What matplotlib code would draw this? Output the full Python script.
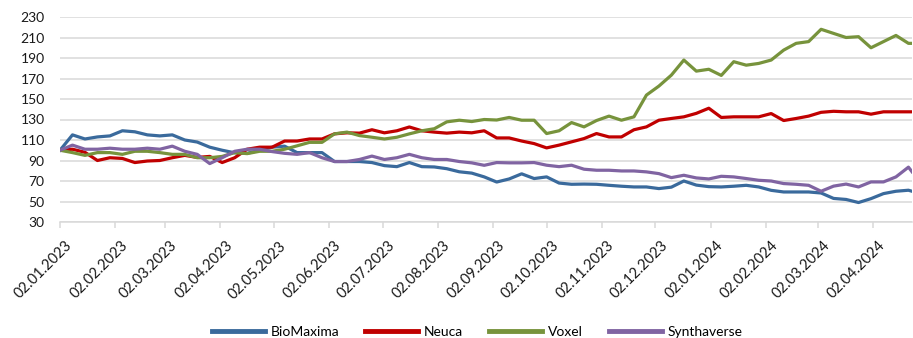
import matplotlib
matplotlib.use('Agg')
from matplotlib import pyplot as plt
from matplotlib.transforms import ScaledTranslation
import matplotlib.dates as mdates
import pandas as pd

# weekly readings (Mondays from 02.01.2023), last value = 24.04.2024
biomaxima = [100, 115, 111, 113, 114, 119, 118, 115, 114, 115,
             110, 108, 103, 100, 97.5, 97, 100, 103, 104, 97.7,
             97.7, 97.7, 89, 89, 89, 88, 85, 84, 88, 84,
             83.7, 82, 79, 77.7, 74, 69, 72, 77, 72.4, 74,
             68, 66.8, 67, 66.8, 65.8, 64.9, 64.2, 64.2, 62.6, 64,
             70, 66, 64.5, 64.2, 64.9, 65.8, 64.2, 60.9, 59.3, 59.3,
             59.3, 58.3, 53, 52, 49, 52.8, 57.7, 60, 61, 60]
neuca = [100, 101, 98, 90, 92.7, 92, 88, 89.5, 90, 92.7,
         95, 93, 94, 88, 92.7, 101, 103, 103, 109, 109,
         111, 111, 116, 117, 116.7, 120, 117, 119, 122.7, 119,
         117.7, 116.7, 117.7, 117, 119, 112, 112, 109, 106.5, 102.3,
         105, 108.2, 111.4, 116.3, 113, 113, 120, 122.8, 129.3, 131,
         132.6, 136, 141, 132, 132.6, 132.6, 132.6, 135.8, 129, 131,
         133.3, 137, 138, 137.5, 137.5, 135.2, 137.5, 137.5, 137.5, 137.5]
voxel = [100, 97.7, 95, 97.7, 97.7, 96, 99, 99, 97.7, 96,
         96, 92.7, 92.7, 94, 97.7, 96.7, 99, 99, 101, 104.3,
         107.7, 107.7, 116, 117.7, 114.3, 112.7, 111, 112.7, 116, 119,
         121, 127.7, 129.3, 128, 130, 129.5, 132, 129.3, 129.3, 116.3,
         119, 127, 122.8, 129, 133.3, 129.3, 132.6, 153.8, 162.6, 173.3,
         188, 177.2, 179, 173, 186.4, 183, 184.7, 188, 197.7, 204.3,
         206, 218, 214, 210, 210.8, 200, 206, 212, 204.3, 204.3]
synthaverse = [100, 105, 101, 101, 102, 101, 101, 102, 101, 104,
               99, 96, 87, 92.7, 99, 101, 101, 98.7, 97, 96,
               97.7, 92.7, 89, 89, 91, 94.3, 91, 92.7, 96, 92.7,
               91, 91, 89, 87.7, 85.3, 88, 87.7, 87.7, 88, 85.4,
               84, 85.4, 81.5, 80.5, 80.5, 79.8, 79.8, 78.9, 77.2, 73.3,
               75.6, 73, 72, 74.6, 74, 72.4, 70.7, 70, 67.5, 66.8,
               65.8, 60, 65, 67, 64.2, 69.1, 69.1, 74, 83.5, 79]

series_names = ['BioMaxima', 'Neuca', 'Voxel', 'Synthaverse']
series_colors = ['#3A6A9C', '#C00000', '#77933C', '#8064A2']

dates = list(pd.date_range('2023-01-02', periods=69, freq='7D')) + [pd.Timestamp('2024-04-24')]
tick_dates = pd.date_range('2023-01-01', '2024-04-01', freq='MS') + pd.Timedelta(days=1)

plt.rcParams['font.family'] = ['Lato', 'DejaVu Sans']

fig = plt.figure(figsize=(9.13, 3.38), dpi=100)
ax = fig.add_axes([60 / 913, 1 - 222 / 338, 852 / 913, 205 / 338])

for name, values, color in zip(series_names, [biomaxima, neuca, voxel, synthaverse], series_colors):
    ax.plot(dates, values, color=color, lw=2.3, label=name, solid_joinstyle='round')

ax.set_ylim(30, 230)
ax.set_yticks(range(30, 231, 20))
ax.set_xlim(pd.Timestamp('2023-01-02'), pd.Timestamp('2024-04-24'))
ax.set_xticks(tick_dates)
ax.xaxis.set_major_formatter(mdates.DateFormatter('%d.%m.%Y'))

ax.grid(axis='y', color='#D9D9D9', lw=1.1)
ax.set_axisbelow(True)
for s in ['left', 'right', 'top']:
    ax.spines[s].set_visible(False)
ax.spines['bottom'].set_color('#D9D9D9')
ax.spines['bottom'].set_linewidth(1.1)

ax.tick_params(axis='y', length=0, pad=11, labelsize=10, labelcolor='#1a1a1a')
ax.tick_params(axis='x', length=4, color='#D9D9D9', width=1.1, pad=8, labelsize=10.5, labelcolor='#1a1a1a')
for lab in ax.get_xticklabels():
    lab.set_rotation(45)
    lab.set_ha('right')
    lab.set_va('top')
    lab.set_rotation_mode('anchor')
    lab.set_transform(lab.get_transform() + ScaledTranslation(5 / 100, 0, fig.dpi_scale_trans))

fig.legend(loc='center', bbox_to_anchor=(477 / 913, 1 - 332 / 338), ncol=4, frameon=False,
           fontsize=10, handlelength=3.8, handletextpad=0.4, columnspacing=1.9)
for line in fig.legends[0].get_lines():
    line.set_linewidth(3.5)

fig.savefig('out.png', dpi=100)
